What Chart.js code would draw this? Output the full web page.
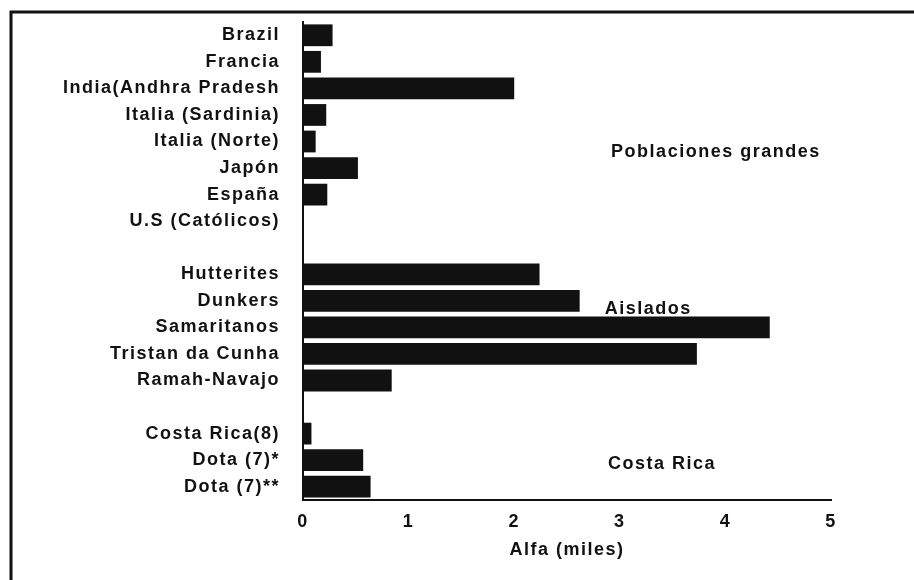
<!DOCTYPE html>
<html>
<head>
<meta charset="utf-8">
<script src="https://cdn.jsdelivr.net/npm/chart.js@4/dist/chart.umd.min.js"></script>
<style>
  html, body { margin: 0; padding: 0; background: #fff; }
  #wrap { width: 914px; height: 580px; }
</style>
</head>
<body>
<div id="wrap"><canvas id="c" width="914" height="580"></canvas></div>
<script>
// ---- data ----
const categories = [
  "Brazil", "Francia", "India(Andhra Pradesh", "Italia (Sardinia)", "Italia (Norte)",
  "Japón", "España", "U.S (Católicos)", "",
  "Hutterites", "Dunkers", "Samaritanos", "Tristan da Cunha", "Ramah-Navajo", "",
  "Costa Rica(8)", "Dota (7)*", "Dota (7)**"
];
const alfaValues = [
  0.28, 0.17, 2.0, 0.22, 0.12,
  0.52, 0.23, 0, null,
  2.24, 2.62, 4.42, 3.73, 0.84, null,
  0.08, 0.57, 0.64
];
const xTickValues = [0, 1, 2, 3, 4, 5];
const axisTitle = "Alfa (miles)";
const groupLabels = ["Poblaciones grandes", "Aislados", "Costa Rica"];
const groupLabelX = [3.91, 3.27, 3.40];
const groupLabelY = [4.4, 10.3, 16.15];

// ---- rendering ----
const INK = '#111111';
const FONT_FAMILY = "'Liberation Sans', Arial, sans-serif";
const FONT_SIZE = 18;
const SPACING = '1.5px';

const spacingPlugin = {
  id: 'spacing',
  beforeLayout(chart) { chart.ctx.letterSpacing = SPACING; },
  beforeDraw(chart) {
    const ctx = chart.ctx;
    ctx.letterSpacing = SPACING;
    ctx.save();
    ctx.fillStyle = '#ffffff';
    ctx.fillRect(0, 0, chart.width, chart.height);
    ctx.strokeStyle = INK;
    ctx.lineWidth = 3;
    ctx.beginPath();
    ctx.moveTo(11, 580);
    ctx.lineTo(11, 12);
    ctx.lineTo(914, 12);
    ctx.stroke();
    ctx.restore();
  },
  afterDatasetsDraw(chart) {
    const ctx = chart.ctx;
    const xs = chart.scales.x, ys = chart.scales.y;
    ctx.save();
    ctx.letterSpacing = SPACING;
    ctx.fillStyle = INK;
    ctx.font = "bold " + FONT_SIZE + "px " + FONT_FAMILY;
    ctx.textAlign = 'center';
    ctx.textBaseline = 'middle';
    groupLabels.forEach((t, i) => {
      ctx.fillText(t, xs.getPixelForValue(groupLabelX[i]), ys.getPixelForValue(groupLabelY[i]));
    });
    ctx.restore();
  }
};

const tickFont = { family: FONT_FAMILY, size: FONT_SIZE, weight: 'bold' };

new Chart(document.getElementById('c'), {
  type: 'bar',
  data: {
    labels: categories,
    datasets: [{
      data: alfaValues,
      backgroundColor: INK,
      borderWidth: 0,
      barPercentage: 0.82,
      categoryPercentage: 1.0
    }]
  },
  options: {
    indexAxis: 'y',
    responsive: false,
    animation: false,
    events: [],
    layout: { padding: { top: 22, left: 13, right: 83, bottom: 14 } },
    plugins: { legend: { display: false }, tooltip: { enabled: false } },
    scales: {
      x: {
        min: 0, max: 5,
        afterFit: s => { s.height = 66; s.paddingLeft = 0; s.paddingRight = 0; },
        afterBuildTicks: s => { s.ticks = xTickValues.map(v => ({ value: v })); },
        grid: { display: false, drawTicks: false },
        border: { display: true, color: INK, width: 2 },
        ticks: { color: INK, padding: 11, font: tickFont },
        title: {
          display: true, text: axisTitle, color: INK,
          padding: { top: 4, bottom: 5 },
          font: tickFont
        }
      },
      y: {
        afterFit: s => { s.width = 290; s.paddingTop = 0; s.paddingBottom = 0; },
        grid: { display: false, drawTicks: false },
        border: { display: true, color: INK, width: 2 },
        ticks: { color: INK, padding: 23, autoSkip: false, font: tickFont }
      }
    }
  },
  plugins: [spacingPlugin]
});
</script>
</body>
</html>
